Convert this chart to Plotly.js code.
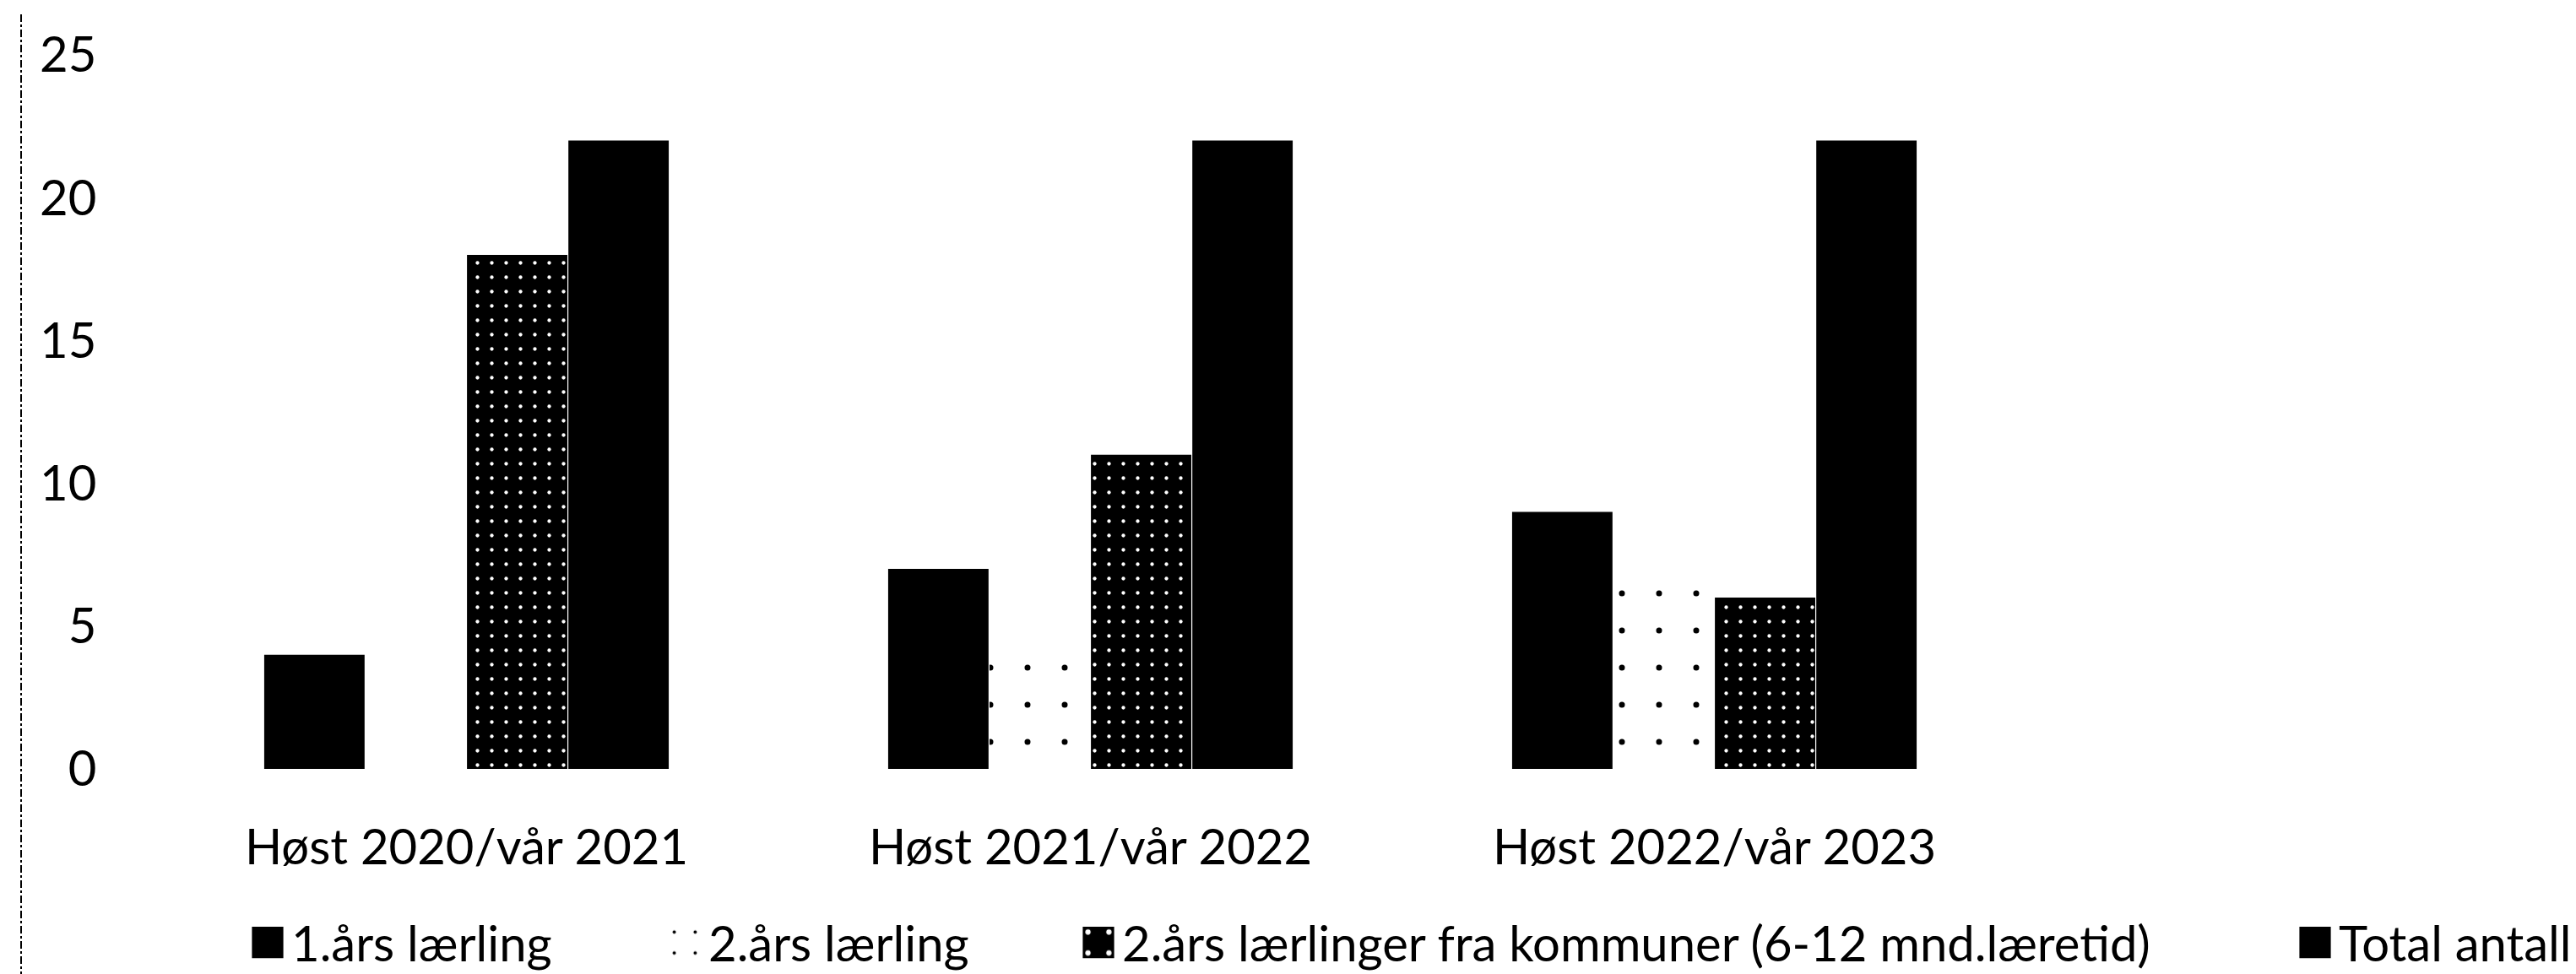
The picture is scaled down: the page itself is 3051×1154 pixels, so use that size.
<!DOCTYPE html>
<html>
<head>
<meta charset="utf-8">
<script src="https://cdn.plot.ly/plotly-3.0.1.min.js"></script>
<style>
  html, body { margin: 0; padding: 0; background: #fff; }
  #chart { width: 3051px; height: 1154px; }
</style>
</head>
<body>
<div id="chart"></div>
<script>
const categories = ["Høst 2020/vår 2021", "Høst 2021/vår 2022", "Høst 2022/vår 2023"];
const firstYear = [4, 7, 9];
const secondYear = [0, 4, 7];
const fromMunicipalities = [18, 11, 6];
const totalCount = [22, 22, 22];
const seriesNames = ["1.års lærling", "2.års lærling", "2.års lærlinger fra kommuner (6-12 mnd.læretid)", "Total antall"];
const yTicks = [0, 5, 10, 15, 20, 25];

const FONT = "Lato, 'Liberation Sans', sans-serif";
const W = 3051, H = 1154;
const M = { l: 183, r: 651, t: 65, b: 243 };
const PW = W - M.l - M.r, PH = H - M.t - M.b;
const px = X => (X - M.l) / PW;
const py = Y => (H - M.b - Y) / PH;

const traces = [
  { type: "bar", name: seriesNames[0], x: categories, y: firstYear, legend: "legend",
    marker: { color: "#000000", line: { width: 0 } } },
  { type: "bar", name: seriesNames[1], x: categories, y: secondYear, legend: "legend2",
    marker: { color: "#ffffff", line: { width: 0 },
      pattern: { shape: ".", fgcolor: "#000000", bgcolor: "#ffffff", size: 44, solidity: 0.02 } } },
  { type: "bar", name: seriesNames[2], x: categories, y: fromMunicipalities, legend: "legend3",
    marker: { color: "#000000", line: { width: 0 },
      pattern: { shape: ".", fgcolor: "#ffffff", bgcolor: "#000000", size: 17, solidity: 0.05 } } },
  { type: "bar", name: seriesNames[3], x: categories, y: totalCount, legend: "legend4",
    marker: { color: "#000000", line: { width: 0 } } }
];

const legendBase = {
  orientation: "h", yanchor: "middle", y: py(1117), xanchor: "left",
  font: { family: FONT, size: 58, color: "#000" }, bgcolor: "rgba(0,0,0,0)",
  borderwidth: 0, itemwidth: 46, itemclick: false, itemdoubleclick: false
};

const layout = {
  width: W, height: H,
  margin: { l: M.l, r: M.r, t: M.t, b: M.b, pad: 0, autoexpand: false },
  paper_bgcolor: "#ffffff", plot_bgcolor: "#ffffff",
  font: { family: FONT, size: 58, color: "#000000" },
  barmode: "group", bargap: 0.35, bargroupgap: 0.01,
  showlegend: true,
  legend: Object.assign({}, legendBase, { x: px(289) }),
  legend2: Object.assign({}, legendBase, { x: px(783) }),
  legend3: Object.assign({}, legendBase, { x: px(1273) }),
  legend4: Object.assign({}, legendBase, { x: px(3051), xanchor: "right" }),
  xaxis: {
    type: "category", showgrid: false, zeroline: false, showline: false,
    ticks: "outside", ticklen: 42, tickcolor: "rgba(0,0,0,0)",
    tickfont: { family: FONT, size: 58, color: "#000" }
  },
  yaxis: {
    range: [0, 25], tickvals: yTicks, ticktext: yTicks.map(String),
    showgrid: false, zeroline: false, showline: false,
    ticks: "outside", ticklen: 56, tickcolor: "rgba(0,0,0,0)",
    tickfont: { family: FONT, size: 58, color: "#000" }
  },
  shapes: [
    { type: "line", xref: "paper", yref: "paper",
      x0: px(25), x1: px(25), y0: py(17), y1: py(1154),
      line: { color: "#000000", width: 2, dash: "dashdot" } }
  ]
};

Plotly.newPlot("chart", traces, layout, { staticPlot: true, displayModeBar: false }).then(() => {
  document.querySelectorAll(".legendpoints path").forEach(p => {
    const t = p.getAttribute("transform") || "";
    p.setAttribute("transform", t + " scale(3.1)");
  });
});
</script>
</body>
</html>
